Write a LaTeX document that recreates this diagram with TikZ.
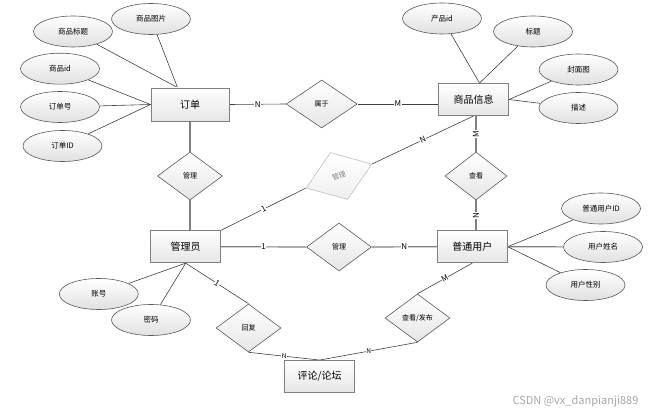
\documentclass[tikz,border=0pt]{standalone}
\usepackage{fontspec}
\setmainfont{Noto Sans CJK SC}
\usetikzlibrary{shapes.geometric}
\pgfdeclarelayer{background}
\pgfsetlayers{background,main}
\tikzset{
  ent/.style={draw=black!50,line width=0.9pt,top color=white,bottom color=black!10,
    minimum width=70pt,minimum height=32pt,inner sep=1pt,font=\fontsize{10}{12}\selectfont},
  attr/.style={ellipse,draw=black!65,line width=0.6pt,top color=white,bottom color=black!12,
    minimum width=79pt,minimum height=31pt,inner sep=0pt,font=\fontsize{7.5}{9}\selectfont},
  rel/.style={diamond,draw=black!65,line width=0.6pt,top color=white,bottom color=black!10,
    minimum width=65pt,minimum height=48pt,inner sep=0pt,font=\fontsize{7}{8}\selectfont},
  lnk/.style={draw=black!75,line width=0.6pt},
  lnkg/.style={draw=black!50,line width=1.2pt},
  card/.style={fill=white,inner sep=0.5pt,font=\fontsize{8}{9}\selectfont},
}
\begin{document}
\begin{tikzpicture}[x=1pt,y=-1pt]
\useasboundingbox (0,0) rectangle (654,414);
%entities
\node[ent,minimum width=78pt,minimum height=33pt] (dd) at (190,104.5) {订单};
\node[ent] (spxx) at (473.5,99.5) {商品信息};
\node[ent] (glyy) at (185.7,246.7) {管理员};
\node[ent] (ptyh) at (472.3,246.7) {普通用户};
\node[ent] (pl) at (319.7,376.5) {评论/论坛};
%attributes of 订单
\node[attr] (spt) at (151,19) {商品图片};
\node[attr] (sbt) at (73,31.5) {商品标题};
\node[attr] (sid) at (60,68.7) {商品id};
\node[attr] (ddh) at (60,107) {订单号};
\node[attr] (ddid) at (62.5,146) {订单ID};
%attributes of 商品信息
\node[attr] (cpid) at (442,18.5) {产品id};
\node[attr] (bt) at (533,31.5) {标题};
\node[attr] (fmt) at (578.5,69.5) {封面图};
\node[attr] (ms) at (578.5,108) {描述};
%attributes of 管理员
\node[attr] (zh) at (98.8,294) {账号};
\node[attr] (mm) at (151,320) {密码};
%attributes of 普通用户
\node[attr] (uid) at (601,208.5) {普通用户ID};
\node[attr] (xm) at (603,247) {用户姓名};
\node[attr] (xb) at (585.5,285) {用户性别};
%relations
\node[rel,minimum width=71pt] (sy) at (321.7,104) {属于};
\node[rel] (gl1) at (190,176) {管理};
\node[rel,minimum width=70pt,minimum height=50pt,rotate=20,draw=black!25,
  bottom color=black!6,text=black!50] (gl2) at (339,176) {管理};
\node[rel,minimum width=62pt] (ck) at (476,176) {查看};
\node[rel] (gl3) at (339,247) {管理};
\node[rel] (hf) at (248.5,328) {回复};
\node[rel] (ckfb) at (417.5,318) {查看/发布};
\coordinate (ddtop) at ([xshift=-12.5pt]dd.north);
\coordinate (sptop) at ([xshift=6pt]spxx.north);
\begin{pgfonlayer}{background}
%attribute lines
\draw[lnk] (spt) -- (ddtop);
\draw[lnk] (sbt) -- (ddtop);
\draw[lnk] (sid) -- (dd.west);
\draw[lnk] (ddh) -- (dd.west);
\draw[lnk] (ddid) -- (dd.west);
\draw[lnk] (cpid) -- (sptop);
\draw[lnk] (bt) -- (sptop);
\draw[lnk] (fmt) -- (spxx.east);
\draw[lnk] (ms) -- (spxx.east);
\draw[lnk] (zh) -- (glyy.south);
\draw[lnk] (mm) -- (glyy.south);
\draw[lnk] (uid) -- (ptyh.east);
\draw[lnkg] (xm) -- (ptyh.east);
\draw[lnk] (xb) -- (ptyh.east);
%relation lines
\draw[lnk] (dd.east) -- node[card] {N} (sy.west);
\draw[lnk] (sy.east) -- node[card] {M} (sy.east -| spxx.west);
\draw[lnkg] (dd.south -| gl1.north) -- (gl1.north);
\draw[lnkg] (gl1.south) -- (gl1.south |- glyy.north);
\draw[lnk] (glyy.north east) -- node[card,sloped] {1} (gl2.west);
\draw[lnk] (gl2.east) -- node[card,sloped] {N} (spxx.south);
\draw[lnkg] (ck.north |- spxx.south) -- node[card,rotate=90] {M} (ck.north);
\draw[lnkg] (ck.south) -- node[card,rotate=90] {N} (ck.south |- ptyh.north);
\draw[lnkg] (glyy.east) -- node[card] {1} (gl3.west);
\draw[lnkg] (gl3.east) -- node[card] {N} (ptyh.west);
\draw[lnk] (glyy.south) -- node[card,sloped] {1} (hf.north);
\draw[lnk] (hf.south) -- node[card,font=\fontsize{6.5}{7}\selectfont] {N} (pl.north);
\draw[lnk] (ptyh.south) -- node[card,sloped] {M} (ckfb.north);
\draw[lnk] (ckfb.south) -- node[card,font=\fontsize{6.5}{7}\selectfont] {N} (pl.north);
\end{pgfonlayer}
\node[text=black!35,font=\fontsize{11}{13}\selectfont] (wm) at (575.5,401) {CSDN @vx\_danpianji889};
\end{tikzpicture}
\end{document}
